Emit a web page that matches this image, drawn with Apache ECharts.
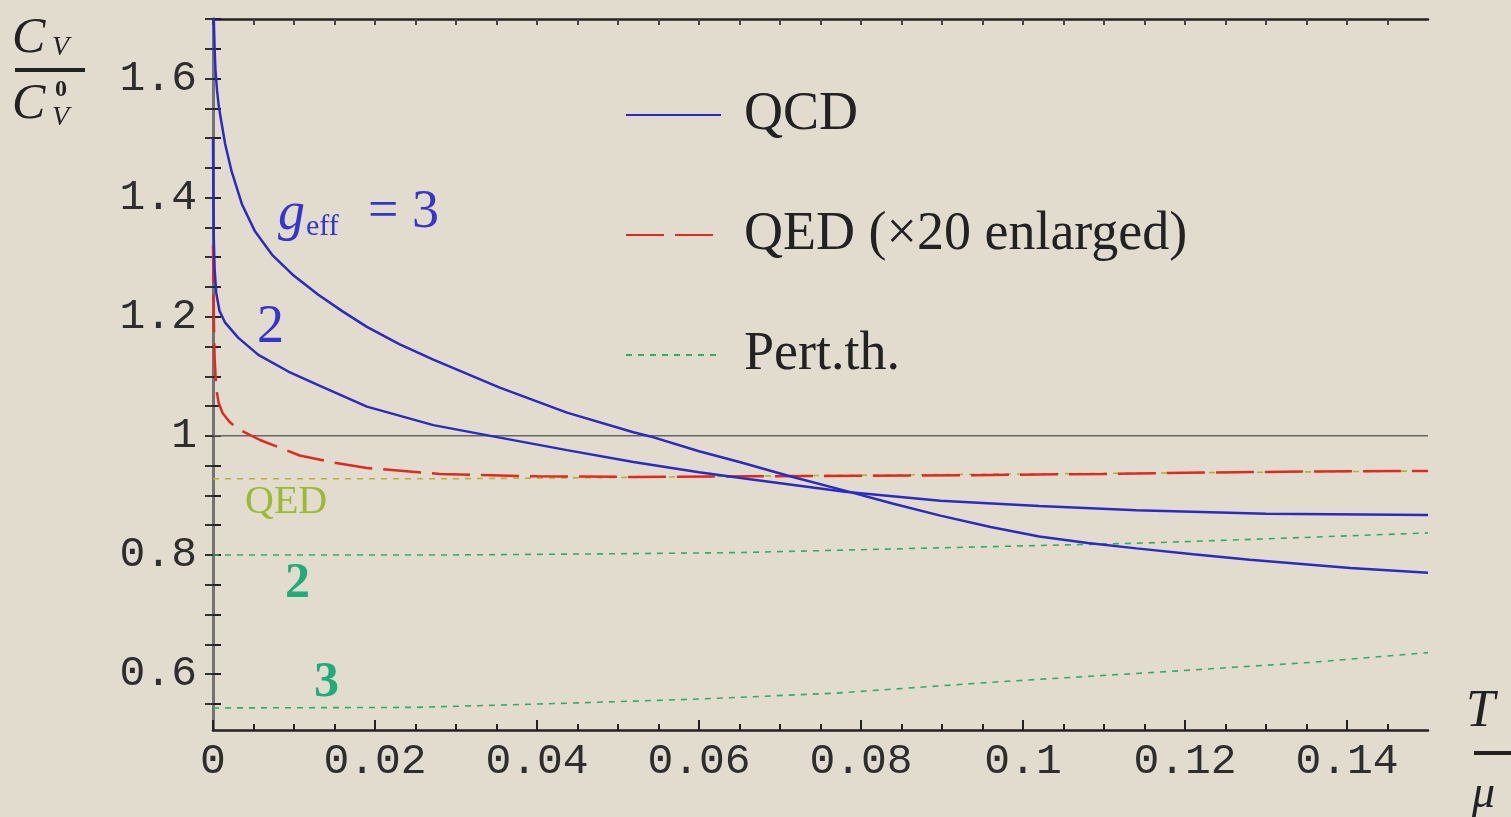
<!DOCTYPE html>
<html>
<head>
<meta charset="utf-8">
<script src="https://cdn.jsdelivr.net/npm/echarts@6/dist/echarts.min.js"></script>
<style>
html,body{margin:0;padding:0;background:#e2dccf;}
#chart{width:1511px;height:817px;}
</style>
</head>
<body>
<div id="chart"></div>
<script>
// ---- data ----
const xTickLabels = [0, 0.02, 0.04, 0.06, 0.08, 0.1, 0.12, 0.14];
const yTickLabels = [0.6, 0.8, 1.0, 1.2, 1.4, 1.6];

const qcd3X = [0, 0.0001, 0.0002, 0.0003, 0.0005, 0.0007, 0.001, 0.0015, 0.0023, 0.0036, 0.0052, 0.0073, 0.0098, 0.013, 0.016, 0.019, 0.023, 0.0272, 0.0354, 0.0437, 0.0519, 0.054, 0.060, 0.065, 0.071, 0.078, 0.084, 0.0898, 0.096, 0.102, 0.108, 0.114, 0.121, 0.128, 0.1404, 0.15];
const qcd3Y = [1.80, 1.70, 1.65, 1.615, 1.58, 1.555, 1.53, 1.49, 1.444, 1.388, 1.343, 1.304, 1.271, 1.237, 1.209, 1.183, 1.154, 1.128, 1.081, 1.039, 1.006, 0.999, 0.974, 0.956, 0.933, 0.908, 0.886, 0.866, 0.847, 0.831, 0.820, 0.811, 0.801, 0.792, 0.778, 0.770];

const qcd2X = [0, 0.00005, 0.0001, 0.0002, 0.0004, 0.0008, 0.0015, 0.0031, 0.0056, 0.0093, 0.013, 0.019, 0.0272, 0.0354, 0.0437, 0.0519, 0.060, 0.0663, 0.078, 0.0898, 0.102, 0.114, 0.13, 0.15];
const qcd2Y = [1.50, 1.40, 1.33, 1.28, 1.24, 1.21, 1.19, 1.165, 1.136, 1.108, 1.085, 1.049, 1.018, 0.997, 0.976, 0.956, 0.939, 0.927, 0.906, 0.891, 0.882, 0.875, 0.869, 0.867];

const qedX = [0, 0.0001, 0.0002, 0.0004, 0.0007, 0.0012, 0.002, 0.003, 0.0058, 0.0107, 0.015, 0.019, 0.028, 0.04, 0.052, 0.066, 0.08, 0.094, 0.11, 0.12, 0.135, 0.15];
const qedY = [1.32, 1.20, 1.13, 1.08, 1.055, 1.038, 1.024, 1.012, 0.993, 0.967, 0.955, 0.946, 0.936, 0.932, 0.931, 0.932, 0.933, 0.934, 0.936, 0.938, 0.940, 0.941];

const pertQedX = [0, 0.03, 0.05, 0.07, 0.09, 0.11, 0.13, 0.15];
const pertQedY = [0.928, 0.928, 0.930, 0.933, 0.935, 0.937, 0.939, 0.941];

const pert2X = [0, 0.03, 0.05, 0.065, 0.09, 0.115, 0.13, 0.15];
const pert2Y = [0.800, 0.800, 0.802, 0.804, 0.812, 0.820, 0.827, 0.837];

const pert3X = [0, 0.025, 0.0437, 0.060, 0.077, 0.097, 0.1165, 0.136, 0.15];
const pert3Y = [0.543, 0.544, 0.551, 0.558, 0.568, 0.587, 0.603, 0.620, 0.636];

const refX = [0, 0.15];
const refY = [1, 1];

const zip = (xs, ys) => xs.map((x, i) => [x, ys[i]]);

// axis tick positions
const xMinor = [];
for (let i = 0; i <= 29; i++) xMinor.push(+(i * 0.005).toFixed(3));
const yMinor = [];
for (let i = 0; i <= 23; i++) yMinor.push(+(0.55 + i * 0.05).toFixed(2));

const chart = echarts.init(document.getElementById('chart'));
const blue = '#2b2bc4', red = '#e02a20', green = '#33aa66', olive = '#bdb030';
const monoLabel = {fontFamily: 'Liberation Mono', fontSize: 43, color: '#2e2e2e'};
const curve = {type: 'line', symbol: 'none', showSymbol: false, smooth: false};

const option = {
  backgroundColor: '#e2dccf',
  animation: false,
  grid: {left: 213, top: 19, width: 1215, height: 711, containLabel: false},
  legend: {
    left: 625, top: 87, orient: 'vertical', padding: 0,
    itemWidth: 95, itemHeight: 16, itemGap: 64,
    data: ['QCD', 'QED (×20 enlarged)', 'Pert.th.'],
    itemStyle: {opacity: 0},
    textStyle: {fontFamily: 'Liberation Serif', fontSize: 54, lineHeight: 56, color: '#222', padding: [0, 0, 0, 18]},
    selectedMode: false
  },
  xAxis: [
    {type: 'value', min: 0, max: 0.15, position: 'bottom',
     axisLine: {show: true, lineStyle: {color: '#222', width: 2.5}},
     axisTick: {show: true, inside: true, length: 10, customValues: xTickLabels, lineStyle: {color: '#222', width: 2}},
     axisLabel: {show: true, customValues: xTickLabels, margin: 10, ...monoLabel,
       formatter: v => String(+(+v).toFixed(2))},
     splitLine: {show: false}},
    {type: 'value', min: 0, max: 0.15, position: 'bottom',
     axisLine: {show: false},
     axisTick: {show: true, inside: true, length: 6, customValues: xMinor, lineStyle: {color: '#222', width: 2}},
     axisLabel: {show: false}, splitLine: {show: false}},
    {type: 'value', min: 0, max: 0.15, position: 'top',
     axisLine: {show: true, lineStyle: {color: '#222', width: 2.5}},
     axisTick: {show: true, inside: true, length: 6, customValues: xMinor, lineStyle: {color: '#444', width: 2}},
     axisLabel: {show: false}, splitLine: {show: false}}
  ],
  yAxis: [
    {type: 'value', min: 0.506, max: 1.70, position: 'left',
     axisLine: {show: true, lineStyle: {color: '#333', width: 2.5}},
     axisTick: {show: true, inside: true, length: 8, customValues: yMinor, lineStyle: {color: '#222', width: 2}},
     axisLabel: {show: true, customValues: yTickLabels, margin: 16, ...monoLabel,
       formatter: v => String(+(+v).toFixed(1))},
     splitLine: {show: false}},
    {type: 'value', min: 0.506, max: 1.70, position: 'right',
     axisLine: {show: true, lineStyle: {color: '#777', width: 2.5}},
     axisTick: {show: true, inside: true, length: 8, customValues: yMinor, lineStyle: {color: '#333', width: 2}},
     axisLabel: {show: false}, splitLine: {show: false}}
  ],
  series: [
    {name: 'ref', type: 'line', data: zip(refX, refY), symbol: 'none', silent: true,
     lineStyle: {color: '#666', width: 1.5}, z: 1},
    {...curve, name: 'Pert.th.', data: zip(pert2X, pert2Y),
     lineStyle: {color: green, width: 1.6, type: [6, 6]}, itemStyle: {color: green}, z: 2},
    {...curve, name: 'Pert.th.', data: zip(pert3X, pert3Y),
     lineStyle: {color: green, width: 1.6, type: [6, 6]}, itemStyle: {color: green}, z: 2},
    {...curve, name: 'Pert.th.', data: zip(pertQedX, pertQedY),
     lineStyle: {color: olive, width: 1.6, type: [6, 6]}, itemStyle: {color: olive}, z: 2},
    {...curve, name: 'QED (×20 enlarged)', data: zip(qedX, qedY),
     lineStyle: {color: red, width: 2.5, type: [38, 11]}, itemStyle: {color: red}, z: 3},
    {...curve, name: 'QCD', data: zip(qcd2X, qcd2Y),
     lineStyle: {color: blue, width: 2.5}, itemStyle: {color: blue}, z: 4},
    {...curve, name: 'QCD', data: zip(qcd3X, qcd3Y),
     lineStyle: {color: blue, width: 2.5}, itemStyle: {color: blue}, z: 4}
  ],
  graphic: [
    // y-axis title  C_V / C_V^0
    {type: 'text', left: 12, top: 14, style: {text: 'C', font: 'italic 50px "Liberation Serif"', fill: '#222'}},
    {type: 'text', left: 52, top: 34, style: {text: 'V', font: 'italic 28px "Liberation Serif"', fill: '#222'}},
    {type: 'rect', shape: {x: 15, y: 68, width: 70, height: 4}, style: {fill: '#222'}},
    {type: 'text', left: 12, top: 80, style: {text: 'C', font: 'italic 50px "Liberation Serif"', fill: '#222'}},
    {type: 'text', left: 55, top: 78, style: {text: '0', font: 'bold 24px "Liberation Serif"', fill: '#222'}},
    {type: 'text', left: 52, top: 104, style: {text: 'V', font: 'italic 28px "Liberation Serif"', fill: '#222'}},
    // x-axis title  T / mu
    {type: 'text', left: 1466, top: 686, style: {text: 'T', font: 'italic 52px "Liberation Serif"', fill: '#222'}},
    {type: 'rect', shape: {x: 1474, y: 751, width: 37, height: 4}, style: {fill: '#222'}},
    {type: 'text', left: 1472, top: 772, style: {text: 'μ', font: 'italic 46px "Liberation Serif"', fill: '#222'}},
    // curve annotations
    {type: 'text', left: 278, top: 188, style: {text: 'g', font: 'italic 54px "Liberation Serif"', fill: '#3535cc'}},
    {type: 'text', left: 306, top: 212, style: {text: 'eff', font: '30px "Liberation Serif"', fill: '#3535cc'}},
    {type: 'text', left: 368, top: 186, style: {text: '= 3', font: '54px "Liberation Serif"', fill: '#3535cc'}},
    {type: 'text', left: 257, top: 301, style: {text: '2', font: '54px "Liberation Serif"', fill: '#3535cc'}},
    {type: 'text', left: 245, top: 482, style: {text: 'QED', font: '40px "Liberation Serif"', fill: '#99bb33'}},
    {type: 'text', left: 285, top: 559, style: {text: '2', font: 'bold 50px "Liberation Serif"', fill: '#22aa77'}},
    {type: 'text', left: 314, top: 658, style: {text: '3', font: 'bold 50px "Liberation Serif"', fill: '#22aa77'}}
  ]
};
chart.setOption(option);
</script>
</body>
</html>
